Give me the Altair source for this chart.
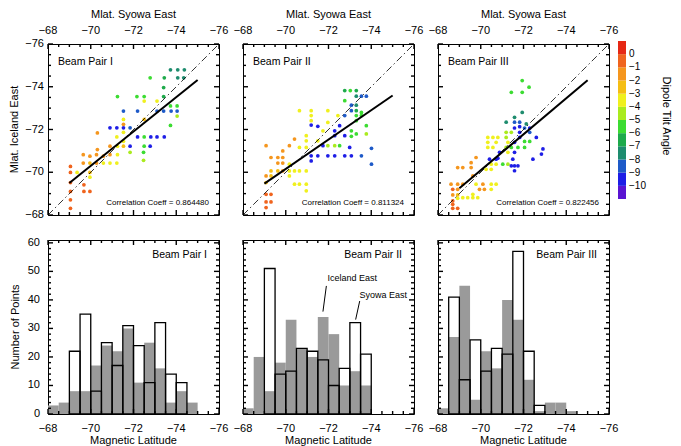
import altair as alt
import pandas as pd

FONT = "Liberation Sans"
W = 171
H_TOP = 171
H_BOT = 174
MAJOR_LEN = 5
MINOR_LEN = 3

# ---------------- axis ticks ----------------
lat_major = [-68, -70, -72, -74, -76]
lat_minor = [-68.5, -69, -69.5, -70.5, -71, -71.5, -72.5, -73, -73.5, -74.5, -75, -75.5]
count_major = [0, 10, 20, 30, 40, 50, 60]
count_minor = [2, 4, 6, 8, 12, 14, 16, 18, 22, 24, 26, 28, 32, 34, 36, 38,
               42, 44, 46, 48, 52, 54, 56, 58]

# ---------------- colour table (dipole tilt angle) ----------------
tilt_thresholds = [-10, -9, -8, -7, -6, -5, -4, -3, -2, -1, 0]
tilt_colors = ["#5a14d2", "#1e1ee6", "#1e5ac8", "#1e8c6e", "#1eaa4b", "#3cdc32",
               "#aaeb1e", "#f0f01e", "#f5be14", "#f5961e", "#f0641e", "#e62814"]
colorbar_lo = [-11, -10, -9, -8, -7, -6, -5, -4, -3, -2, -1, 0]
colorbar_hi = [-10, -9, -8, -7, -6, -5, -4, -3, -2, -1, 0, 1]
colorbar_labels = [0, -1, -2, -3, -4, -5, -6, -7, -8, -9, -10]
colorbar_title = "Dipole Tilt Angle"

beam_names = ["Beam Pair I", "Beam Pair II", "Beam Pair III"]
corr_text = ["Correlation Coeff = 0.864480",
             "Correlation Coeff = 0.811324",
             "Correlation Coeff = 0.822456"]
top_x_title = "Mlat. Syowa East"
top_y_title = "Mlat. Iceland East"
bot_x_title = "Magnetic Latitude"
bot_y_title = "Number of Points"

# ---------------- scatter data: (Syowa East, Iceland East, tilt) ----------------
s1_syowa = [-73.73, -74.07, -74.38, -72.78, -73.44, -74.07, -74.35, -73.41, -71.25, -72.16,
            -72.5, -73.41, -72.5, -73.1, -73.73, -74.04, -71.53, -72.19, -73.1, -73.41,
            -73.76, -74.04, -74.04, -71.53, -72.5, -73.73, -70.9, -71.22, -71.53, -71.84,
            -71.53, -71.22, -72.19, -72.5, -72.81, -73.1, -73.44, -71.53, -70.9, -71.25,
            -71.53, -71.84, -72.78, -72.5, -70.31, -71.84, -72.47, -69.65, -70.27, -70.9,
            -71.25, -69.96, -70.59, -72.47, -69.65, -69.96, -70.27, -70.59, -70.9, -71.22,
            -69.05, -69.05, -69.36, -69.96, -69.96, -69.05, -69.68, -69.05, -69.68, -69.96,
            -69.05, -69.05, -70.31, -71.53]
s1_iceland = [-74.79, -74.79, -74.79, -74.42, -74.42, -74.42, -74.42, -73.96, -73.54, -73.54,
              -73.54, -73.54, -73.33, -73.33, -73.1, -73.1, -72.86, -72.86, -72.86, -72.86,
              -72.86, -72.86, -72.63, -72.47, -72.47, -72.19, -72.08, -72.08, -72.08, -72.08,
              -71.87, -71.65, -71.65, -71.65, -71.65, -71.65, -71.65, -71.45, -71.22, -71.22,
              -71.22, -71.22, -71.22, -71.22, -71.06, -70.93, -70.93, -70.82, -70.82, -70.82,
              -70.82, -70.75, -70.75, -70.56, -70.43, -70.43, -70.43, -70.43, -70.43, -70.43,
              -70.27, -69.99, -69.99, -69.99, -69.77, -69.52, -69.41, -69.1, -69.1, -69.1,
              -68.71, -68.31, -71.84, -72.24]
s1_tilt = [-7.5, -7.5, -7.5, -5.5, -6.5, -7.5, -7.5, -6.5, -5.5, -5.5,
           -5.5, -6.5, -3.5, -3.5, -5.5, -5.5, -8.5, -8.5, -8.5, -8.5,
           -8.5, -8.5, -4.5, -3.5, -2.5, -5.5, -9.5, -9.5, -9.5, -8.5,
           -3.5, -3.5, -9.5, -5.5, -9.5, -9.5, -9.5, -3.5, -1.5, -3.5,
           -2.5, -9.5, -9.5, -5.5, -1.5, -4.5, -5.5, -1.5, -1.5, -1.5,
           -3.5, -1.5, -1.5, -4.5, -1.5, -2.5, -1.5, -3.5, -3.5, -3.5,
           -0.5, -0.5, -3.5, -2.5, -3.5, -0.5, -0.5, -0.5, -0.5, -0.5,
           -0.5, -0.5, -1.5, -1.5]

s2_syowa = [-72.76, -73.02, -73.30, -73.30, -73.54, -73.77, -72.76, -73.07, -73.30, -73.07,
            -73.30, -73.54, -73.30, -73.54, -72.76, -73.30, -73.77, -73.07, -73.30, -73.07,
            -73.77, -70.64, -71.19, -71.97, -72.44, -71.19, -71.19, -71.97, -71.19, -71.50,
            -72.52, -71.74, -72.29, -70.96, -72.29, -72.76, -70.96, -71.50, -71.74, -71.97,
            -72.29, -72.52, -72.99, -74.01, -70.64, -70.96, -71.19, -71.50, -71.97, -72.29,
            -72.76, -73.07, -73.54, -74.01, -71.19, -69.08, -70.17, -70.41, -69.86, -69.31,
            -69.63, -69.86, -69.63, -69.86, -70.17, -69.31, -69.63, -69.86, -70.17, -70.41,
            -70.64, -70.96, -69.08, -69.31, -70.17, -69.08, -70.41, -70.64, -70.96, -70.96,
            -69.08, -69.31, -69.08, -69.31, -69.08]
s2_iceland = [-73.82, -73.82, -73.82, -73.56, -73.56, -73.56, -73.35, -73.14, -73.14, -72.88,
              -72.88, -72.80, -72.65, -72.65, -72.65, -72.41, -72.18, -71.94, -71.79, -71.68,
              -71.79, -72.88, -72.88, -72.88, -72.65, -72.65, -72.41, -72.33, -72.21, -72.15,
              -72.18, -71.94, -71.94, -71.71, -71.71, -71.71, -71.47, -71.47, -71.24, -71.24,
              -71.24, -71.24, -71.16, -71.12, -71.16, -71.16, -70.77, -70.77, -70.77, -70.77,
              -70.77, -70.77, -70.77, -70.38, -70.53, -71.24, -71.24, -71.55, -71.00, -70.69,
              -70.69, -70.69, -70.43, -70.43, -70.38, -70.06, -70.06, -70.06, -70.06, -70.06,
              -70.06, -70.06, -69.83, -69.83, -69.83, -69.52, -69.44, -69.44, -69.44, -69.13,
              -68.97, -68.97, -68.61, -68.61, -68.35]
s2_tilt = [-6.5, -5.5, -6.5, -7.5, -8.5, -8.5, -5.5, -8.5, -7.5, -8.5,
           -6.5, -5.5, -5.5, -5.5, -8.5, -5.5, -5.5, -5.5, -5.5, -5.5,
           -4.5, -3.5, -3.5, -3.5, -3.5, -3.5, -3.5, -3.5, -9.5, -9.5,
           -9.5, -3.5, -9.5, -3.5, -9.5, -9.5, -3.5, -3.5, -9.5, -4.5,
           -4.5, -5.5, -9.5, -8.5, -3.5, -3.5, -9.5, -9.5, -9.5, -9.5,
           -9.5, -9.5, -8.5, -8.5, -9.5, -1.5, -1.5, -1.5, -1.5, -1.5,
           -1.5, -1.5, -1.5, -1.5, -3.5, -2.5, -2.5, -1.5, -3.5, -3.5,
           -3.5, -3.5, -1.5, -2.5, -3.5, -2.5, -3.5, -3.5, -3.5, -3.5,
           -0.5, -0.5, -0.5, -0.5, -0.5]

s3_syowa = [-71.94, -71.43, -71.94, -72.26, -71.94, -71.58, -71.19, -71.58, -71.82, -71.82,
            -71.58, -72.13, -72.05, -72.29, -71.19, -71.43, -71.82, -72.29, -71.19, -71.82,
            -72.60, -71.58, -72.05, -72.29, -70.33, -70.57, -70.80, -70.33, -70.72, -71.27,
            -70.33, -70.57, -71.19, -71.43, -71.74, -72.05, -72.91, -70.88, -71.27, -71.58,
            -72.84, -70.80, -71.50, -70.41, -70.72, -72.44, -71.03, -71.27, -71.43, -71.58,
            -71.74, -71.58, -70.49, -70.72, -70.25, -70.49, -69.78, -69.55, -68.92, -69.16,
            -69.55, -69.63, -68.61, -68.92, -69.16, -69.78, -70.10, -70.49, -70.72, -68.69,
            -68.92, -69.94, -70.17, -70.49, -68.69, -68.92, -69.63, -68.69, -68.92, -69.16,
            -69.39, -69.63, -69.86, -68.69, -68.69, -68.92]
s3_iceland = [-74.29, -73.74, -73.74, -73.98, -72.80, -72.57, -72.34, -72.34, -72.34, -72.13,
              -72.07, -72.26, -72.07, -72.07, -71.87, -71.87, -71.87, -71.87, -71.63, -71.63,
              -71.63, -71.40, -71.44, -71.44, -71.63, -71.63, -71.63, -71.40, -71.40, -71.40,
              -71.16, -71.16, -71.16, -71.16, -71.16, -71.16, -71.09, -70.93, -70.93, -70.93,
              -70.85, -70.66, -70.61, -70.61, -70.61, -70.61, -70.38, -70.38, -70.30, -70.30,
              -70.30, -70.07, -70.38, -70.38, -70.14, -70.14, -70.69, -70.45, -70.22, -70.22,
              -70.22, -69.83, -69.44, -69.44, -69.44, -69.44, -69.44, -69.44, -69.44, -69.20,
              -69.20, -69.20, -69.20, -69.20, -68.94, -68.94, -68.97, -68.66, -68.78, -68.81,
              -68.81, -68.81, -68.81, -68.50, -68.31, -68.31]
s3_tilt = [-5.5, -5.5, -5.5, -5.5, -7.5, -7.5, -7.5, -8.5, -8.5, -9.5,
           -9.5, -7.5, -8.5, -9.5, -4.5, -4.5, -9.5, -8.5, -4.5, -9.5,
           -9.5, -9.5, -5.5, -5.5, -3.5, -3.5, -3.5, -3.5, -3.5, -3.5,
           -3.5, -3.5, -4.5, -5.5, -5.5, -5.5, -9.5, -9.5, -3.5, -9.5,
           -9.5, -9.5, -9.5, -9.5, -9.5, -9.5, -5.5, -4.5, -9.5, -9.5,
           -9.5, -9.5, -3.5, -3.5, -3.5, -3.5, -1.5, -1.5, -1.5, -1.5,
           -1.5, -1.5, -1.5, -1.5, -1.5, -3.5, -1.5, -3.5, -3.5, -0.5,
           -1.5, -1.5, -1.5, -3.5, -1.5, -2.5, -3.5, -0.5, -3.5, -3.5,
           -3.5, -3.5, -3.5, -0.5, -0.5, -0.5]

# regression fits and the 1:1 line
fit_x = [-69.0, -75.0]
fit1_y = [-69.50, -74.32]
fit2_y = [-69.47, -73.59]
fit3_y = [-69.25, -74.30]
diag_vals = [-68.0, -76.0]

# ---------------- histograms (0.5 deg bins) ----------------
bin_lo = [-68.0, -68.5, -69.0, -69.5, -70.0, -70.5, -71.0, -71.5,
          -72.0, -72.5, -73.0, -73.5, -74.0, -74.5, -75.0, -75.5]
bin_hi = [-68.5, -69.0, -69.5, -70.0, -70.5, -71.0, -71.5, -72.0,
          -72.5, -73.0, -73.5, -74.0, -74.5, -75.0, -75.5, -76.0]
h1_iceland = [3, 4, 8, 8, 17, 24, 22, 30, 11, 25, 16, 4, 8, 4, 0, 0]
h1_syowa = [0, 0, 22, 35, 8, 25, 17, 31, 24, 11, 32, 14, 11, 0, 0, 0]
h2_iceland = [2, 20, 8, 18, 33, 23, 20, 34, 28, 10, 15, 10, 0, 0, 0, 0]
h2_syowa = [0, 0, 51, 14, 15, 23, 22, 19, 10, 16, 32, 21, 0, 0, 0, 0]
h3_iceland = [2, 27, 45, 5, 22, 16, 40, 33, 12, 1, 4, 4, 1, 0, 0, 0]
h3_syowa = [0, 41, 12, 26, 15, 23, 21, 57, 22, 3, 0, 0, 0, 0, 0, 0]

# annotations in Beam Pair II histogram (data coordinates)
ann_text = ["Iceland East", "Syowa East"]
ann_tx = [-73.11, -74.56]
ann_ty = [47.6, 41.6]
ann_x1 = [-71.90, -73.46]
ann_y1 = [44.9, 39.6]
ann_x2 = [-71.74, -73.27]
ann_y2 = [35.9, 33.1]


# ---------------- helpers ----------------
def lat_scale():
    return alt.Scale(domain=[-68, -76], nice=False, zero=False)


def count_scale():
    return alt.Scale(domain=[0, 61], nice=False, zero=True)


def tilt_scale():
    return alt.Scale(type="threshold", domain=tilt_thresholds, range=tilt_colors)


def text_layer(s, size, **enc):
    return alt.Chart(pd.DataFrame({"t": [s]})).mark_text(fontSize=size, **enc.pop("mk")).encode(
        text="t:N", **enc)


def frame_ticks(X, Y, x_major, x_minor, y_major, y_minor, h):
    """Inward-pointing ticks on all four sides, positioned through the scales."""
    out = []
    for vals, ln in ((x_major, MAJOR_LEN), (x_minor, MINOR_LEN)):
        d = alt.Chart(pd.DataFrame({"v": vals}))
        out.append(d.mark_rule(color="black", strokeWidth=1.4).encode(
            x=X("v"), y=alt.value(0), y2=alt.value(ln)))
        out.append(d.mark_rule(color="black", strokeWidth=1.4).encode(
            x=X("v"), y=alt.value(h), y2=alt.value(h - ln)))
    for vals, ln in ((y_major, MAJOR_LEN), (y_minor, MINOR_LEN)):
        d = alt.Chart(pd.DataFrame({"v": vals}))
        out.append(d.mark_rule(color="black", strokeWidth=1.4).encode(
            y=Y("v"), x=alt.value(0), x2=alt.value(ln)))
        out.append(d.mark_rule(color="black", strokeWidth=1.4).encode(
            y=Y("v"), x=alt.value(W), x2=alt.value(W - ln)))
    return out


def scatter_panel(k, sx, iy, tilt, fit_y, show_y, show_bar):
    xs, ys = lat_scale(), lat_scale()

    def X(f):
        return alt.X(f, type="quantitative", scale=xs, axis=None)

    def Y(f):
        return alt.Y(f, type="quantitative", scale=ys, axis=None)

    pts = alt.Chart(pd.DataFrame({"x": sx, "y": iy, "tilt": tilt})).mark_circle(
        size=14, opacity=1).encode(
        x=X("x"), y=Y("y"),
        color=alt.Color("tilt:Q", scale=tilt_scale(), legend=None))
    diag = alt.Chart(pd.DataFrame({"x": diag_vals, "y": diag_vals})).mark_line(
        color="black", strokeWidth=0.8, strokeDash=[7, 3, 1.5, 3]).encode(
        x=X("x"), y=Y("y"))
    fit = alt.Chart(pd.DataFrame({"x": fit_x, "y": fit_y})).mark_line(
        color="black", strokeWidth=2).encode(x=X("x"), y=Y("y"))
    name = text_layer(beam_names[k], 10.5, mk=dict(align="left", baseline="middle"),
                      x=alt.value(10), y=alt.value(18))
    corr = text_layer(corr_text[k], 8, mk=dict(align="right", baseline="middle"),
                      x=alt.value(W - 10), y=alt.value(H_TOP - 12))
    layers = [pts, diag, fit, name, corr]
    layers += frame_ticks(X, Y, lat_major, lat_minor, lat_major, lat_minor, H_TOP)
    # tick labels and titles (top x axis, optional left y axis)
    lab = alt.Chart(pd.DataFrame({"v": lat_major}))
    layers.append(lab.mark_text(baseline="alphabetic", fontSize=11).encode(
        x=X("v"), y=alt.value(-10), text=alt.Text("v:Q", format="d")))
    layers.append(text_layer(top_x_title, 11, mk=dict(baseline="alphabetic"),
                             x=alt.value(W / 2), y=alt.value(-26)))
    if show_y:
        layers.append(lab.mark_text(align="right", baseline="middle", fontSize=11).encode(
            y=Y("v"), x=alt.value(-4), text=alt.Text("v:Q", format="d")))
        layers.append(text_layer(top_y_title, 11,
                                 mk=dict(angle=270, align="center", baseline="middle"),
                                 x=alt.value(-33), y=alt.value(H_TOP / 2)))
    if show_bar:
        cb_scale = alt.Scale(domain=[-11, 1], range=[155, -3], nice=False, zero=False)
        cbd = pd.DataFrame({"lo": colorbar_lo, "hi": colorbar_hi,
                            "mid": [(a + b) / 2 for a, b in zip(colorbar_lo, colorbar_hi)]})
        layers.append(alt.Chart(cbd).mark_rect().encode(
            y=alt.Y("lo:Q", scale=cb_scale, axis=None), y2="hi:Q",
            x=alt.value(W + 9), x2=alt.value(W + 17),
            color=alt.Color("mid:Q", scale=tilt_scale(), legend=None)))
        layers.append(alt.Chart(pd.DataFrame({"v": colorbar_labels})).mark_text(
            align="left", baseline="middle", fontSize=10).encode(
            y=alt.Y("v:Q", scale=cb_scale, axis=None),
            x=alt.value(W + 20), text=alt.Text("v:Q", format="d")))
        layers.append(text_layer(colorbar_title, 11,
                                 mk=dict(angle=90, align="center", baseline="middle"),
                                 x=alt.value(W + 57), y=alt.value(72)))
    out = alt.layer(*layers)
    if show_bar:
        out = out.resolve_scale(y="independent").resolve_axis(y="independent")
    return out.properties(width=W, height=H_TOP)


def hist_panel(k, ice, syo, show_y, annotate):
    xs, ys = lat_scale(), count_scale()

    def X(f):
        return alt.X(f, type="quantitative", scale=xs, axis=None)

    def Y(f):
        return alt.Y(f, type="quantitative", scale=ys, axis=None)

    df = pd.DataFrame({"lo": bin_lo, "hi": bin_hi, "ice": ice, "syo": syo})
    gray = alt.Chart(df).transform_filter("datum.ice > 0").mark_bar(
        color="#9a9a9a").encode(x=X("lo"), x2="hi:Q", y=Y("ice"), y2=alt.datum(0))
    outline = alt.Chart(df).transform_filter("datum.syo > 0").mark_bar(
        fillOpacity=0, stroke="black", strokeWidth=1.3).encode(
        x=X("lo"), x2="hi:Q", y=Y("syo"), y2=alt.datum(0))
    name = text_layer(beam_names[k], 10.5, mk=dict(align="right", baseline="middle"),
                      x=alt.value(W - 12), y=alt.value(15))
    layers = [gray, outline, name]
    if annotate:
        adf = pd.DataFrame({"t": ann_text, "tx": ann_tx, "ty": ann_ty,
                            "x1": ann_x1, "y1": ann_y1, "x2": ann_x2, "y2": ann_y2})
        layers.append(alt.Chart(adf).mark_text(fontSize=9, baseline="middle").encode(
            text="t:N", x=X("tx"), y=Y("ty")))
        layers.append(alt.Chart(adf).mark_rule(color="black", strokeWidth=1).encode(
            x=X("x1"), y=Y("y1"), x2="x2:Q", y2="y2:Q"))
    layers += frame_ticks(X, Y, lat_major, lat_minor, count_major, count_minor, H_BOT)
    lab = alt.Chart(pd.DataFrame({"v": lat_major}))
    layers.append(lab.mark_text(baseline="alphabetic", fontSize=11).encode(
        x=X("v"), y=alt.value(H_BOT + 18), text=alt.Text("v:Q", format="d")))
    layers.append(text_layer(bot_x_title, 11, mk=dict(baseline="alphabetic"),
                             x=alt.value(W / 2), y=alt.value(H_BOT + 30)))
    if show_y:
        clab = alt.Chart(pd.DataFrame({"v": count_major}))
        layers.append(clab.mark_text(align="right", baseline="middle", fontSize=11).encode(
            y=Y("v"), x=alt.value(-8), text=alt.Text("v:Q", format="d")))
        layers.append(text_layer(bot_y_title, 11,
                                 mk=dict(angle=270, align="center", baseline="middle"),
                                 x=alt.value(-32), y=alt.value(H_BOT / 2)))
    return alt.layer(*layers).properties(width=W, height=H_BOT)


t1 = scatter_panel(0, s1_syowa, s1_iceland, s1_tilt, fit1_y, True, False)
t2 = scatter_panel(1, s2_syowa, s2_iceland, s2_tilt, fit2_y, False, False)
t3 = scatter_panel(2, s3_syowa, s3_iceland, s3_tilt, fit3_y, False, True)
b1 = hist_panel(0, h1_iceland, h1_syowa, True, False)
b2 = hist_panel(1, h2_iceland, h2_syowa, False, True)
b3 = hist_panel(2, h3_iceland, h3_syowa, False, False)

chart = alt.ConcatChart(
    concat=[t1, t2, t3, b1, b2, b3], columns=3,
    spacing={"row": 25, "column": 24}, bounds="flush"
).properties(padding=0, background="white").configure_view(
    stroke="black", strokeWidth=1
).configure_text(font=FONT, color="black")

chart.save("out.html", embed_options={"renderer": "svg", "actions": False})
